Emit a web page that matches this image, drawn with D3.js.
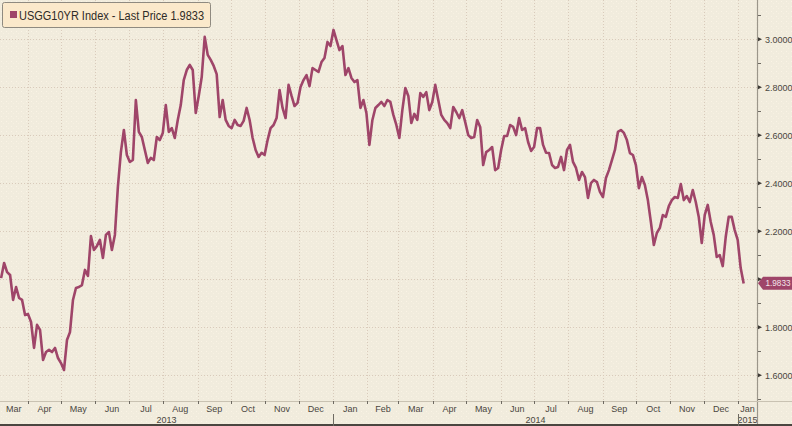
<!DOCTYPE html>
<html><head><meta charset="utf-8">
<script src="https://cdn.jsdelivr.net/npm/d3@7"></script>
<style>html,body{margin:0;padding:0;background:#f2eee0;} svg{display:block}</style>
</head><body><svg id="c" width="792" height="426"></svg>
<script>
// ---- data ----
const seriesName = "USGG10YR Index";
const legendLabel = "USGG10YR Index  - Last Price 1.9833";
const lastPrice = 1.9833;
const startDate = "2013-03-08";
const endDate = "2015-01-06";
const yields = [2.005,2.068,2.030,2.018,1.914,1.968,1.922,1.914,1.851,1.855,1.822,1.714,1.810,1.789,1.664,1.697,1.706,1.697,1.714,1.672,
1.651,1.622,1.747,1.780,1.914,1.964,1.968,1.976,2.039,2.014,2.180,2.122,2.139,2.164,2.089,2.185,2.197,2.122,2.185,2.385,
2.530,2.622,2.518,2.489,2.497,2.747,2.614,2.593,2.539,2.485,2.506,2.497,2.593,2.580,2.610,2.726,2.614,2.630,2.589,2.664,
2.726,2.830,2.872,2.893,2.872,2.693,2.764,2.843,3.010,2.935,2.914,2.889,2.855,2.676,2.747,2.664,2.639,2.630,2.664,2.643,
2.639,2.660,2.714,2.664,2.589,2.539,2.510,2.527,2.518,2.580,2.630,2.643,2.672,2.789,2.714,2.672,2.810,2.764,2.722,2.735,
2.801,2.830,2.851,2.805,2.880,2.872,2.864,2.905,2.922,2.989,2.972,3.039,2.997,2.955,2.972,2.851,2.880,2.839,2.822,2.830,
2.714,2.747,2.693,2.560,2.664,2.714,2.726,2.739,2.722,2.747,2.739,2.685,2.643,2.589,2.705,2.797,2.764,2.651,2.689,2.664,
2.776,2.760,2.780,2.705,2.739,2.810,2.747,2.685,2.664,2.651,2.630,2.718,2.697,2.672,2.705,2.655,2.601,2.589,2.593,2.664,
2.635,2.476,2.530,2.539,2.551,2.455,2.464,2.539,2.597,2.597,2.643,2.635,2.601,2.672,2.622,2.630,2.572,2.535,2.551,2.630,
2.630,2.560,2.527,2.526,2.476,2.464,2.468,2.510,2.455,2.539,2.560,2.489,2.464,2.414,2.447,2.426,2.339,2.401,2.414,2.405,
2.364,2.343,2.422,2.455,2.497,2.539,2.614,2.622,2.610,2.580,2.526,2.518,2.476,2.380,2.426,2.393,2.330,2.239,2.143,2.193,
2.214,2.268,2.260,2.305,2.330,2.343,2.339,2.397,2.330,2.347,2.322,2.372,2.322,2.260,2.151,2.268,2.310,2.239,2.185,2.093,
2.101,2.055,2.176,2.260,2.260,2.205,2.164,2.047,1.983];
const yTickValues = [1.6,1.8,2.0,2.2,2.4,2.6,2.8,3.0];
const yLabelValues = [1.6,1.8,2.2,2.4,2.6,2.8,3.0]; // 2.0000 sits under the last-price tag
const yMinorValues = [1.5,1.7,1.9,2.1,2.3,2.5,2.7,2.9,3.1];
const viewStart = "2013-03-07", viewEnd = "2015-01-18";

// ---- layout ----
const W = 792, H = 426;
const plotR = 757, plotB = 401;
const lineColor = "#9f4569";
const gridColor = "#d9cbbb";
const textColor = "#4a4640";
const font = "'Liberation Sans', Arial, sans-serif";

const parse = d3.utcParse("%Y-%m-%d");
const t0 = parse(startDate), t1 = parse(endDate);
const data = yields.map((v, i) => ({
  date: new Date(+t0 + (t1 - t0) * i / (yields.length - 1)), value: v }));

const x = d3.scaleUtc().domain([parse(viewStart), parse(viewEnd)]).range([0, plotR]);
const y = d3.scaleLinear().domain([3.0, 1.6]).range([39.3, 375.3]);

const svg = d3.select("#c");
const defs = svg.append("defs");
const pat = defs.append("pattern").attr("id","dots").attr("width",5).attr("height",5)
  .attr("patternUnits","userSpaceOnUse");
pat.append("rect").attr("width",5).attr("height",5).attr("fill","#f1ecdd");
pat.append("rect").attr("x",1).attr("y",1).attr("width",1).attr("height",1).attr("fill","#fbf4e6");
pat.append("rect").attr("x",3).attr("y",3).attr("width",1).attr("height",1).attr("fill","#f8f1e2");
defs.append("clipPath").attr("id","plotclip").append("rect")
  .attr("x",0).attr("y",0).attr("width",plotR).attr("height",plotB);
defs.append("clipPath").attr("id","axclip").append("rect")
  .attr("x",0).attr("y",plotB).attr("width",plotR).attr("height",H-plotB);

svg.append("rect").attr("width",W).attr("height",H).attr("fill","url(#dots)");

// grid
const months = d3.utcMonth.range(parse(viewStart), parse(viewEnd));
const gGrid = svg.append("g").attr("clip-path","url(#plotclip)");
gGrid.selectAll("line.v").data(months).join("line")
  .attr("x1", d => Math.round(x(d)) + 0.5).attr("x2", d => Math.round(x(d)) + 0.5)
  .attr("y1", 0).attr("y2", plotB)
  .attr("stroke", gridColor).attr("stroke-width",1).attr("stroke-dasharray","1,2");
gGrid.selectAll("line.h").data(yTickValues).join("line")
  .attr("x1", 0).attr("x2", plotR)
  .attr("y1", d => Math.round(y(d)) + 0.5).attr("y2", d => Math.round(y(d)) + 0.5)
  .attr("stroke", gridColor).attr("stroke-width",1).attr("stroke-dasharray","1,2");

// line
const line = d3.line().x(d => x(d.date)).y(d => y(d.value));
svg.append("path").datum(data).attr("clip-path","url(#plotclip)")
  .attr("d", line).attr("fill","none").attr("stroke", lineColor)
  .attr("stroke-width", 2.6).attr("stroke-linejoin","round");

// frame lines
svg.append("line").attr("x1",plotR+0.5).attr("x2",plotR+0.5).attr("y1",0).attr("y2",H)
  .attr("stroke","#9b968a").attr("stroke-width",1.2);
svg.append("line").attr("x1",0).attr("x2",W).attr("y1",plotB+0.5).attr("y2",plotB+0.5)
  .attr("stroke","#c9c2b2").attr("stroke-width",1);
svg.append("line").attr("x1",0).attr("x2",W).attr("y1",H-1).attr("y2",H-1)
  .attr("stroke","#4a4640").attr("stroke-width",2);

// right axis
const gy = svg.append("g").attr("transform",`translate(${plotR},0)`);
const yAxis = d3.axisRight(y).tickValues(yLabelValues).tickSize(0).tickPadding(8)
  .tickFormat(d3.format(".4f"));
gy.call(yAxis);
gy.select(".domain").remove();
gy.selectAll(".tick text").attr("font-family", font).attr("font-size", 9)
  .attr("fill", textColor).attr("dy","0.34em");
gy.selectAll("path.maj").data(yTickValues).join("path").attr("class","maj")
  .attr("transform", d => `translate(0,${y(d)})`)
  .attr("d","M1,-2L5,0L1,2Z").attr("fill","#3d3a35");
gy.selectAll("line.minor").data(yMinorValues).join("line")
  .attr("x1",1).attr("x2",4).attr("y1",d=>Math.round(y(d))+0.5).attr("y2",d=>Math.round(y(d))+0.5)
  .attr("stroke","#6e6a62").attr("stroke-width",1);

// last price tag
const ly = y(lastPrice);
const tag = svg.append("g").attr("transform",`translate(${plotR+1},${ly})`);
tag.append("path").attr("d","M0,0L5,-6.5L34,-6.5L34,6.5L5,6.5Z").attr("fill", lineColor);
tag.append("text").attr("x",7.5).attr("y",0).attr("dy","0.35em").text(d3.format(".4f")(lastPrice))
  .attr("font-family", font).attr("font-size",9).attr("fill","#f3e6ea")
  .attr("textLength",25).attr("lengthAdjust","spacingAndGlyphs");

// bottom axis: month ticks, month labels, year labels
const gx = svg.append("g").attr("clip-path","url(#axclip)");
gx.selectAll("line.mt").data(months).join("line")
  .attr("x1", d => Math.round(x(d)) + 0.5).attr("x2", d => Math.round(x(d)) + 0.5)
  .attr("y1", plotB).attr("y2", plotB + 3).attr("stroke","#6e6a62");
const monthSpans = d3.utcMonth.range(d3.utcMonth.floor(parse(viewStart)), parse(viewEnd)).map(m => {
  const a = Math.max(0, x(m)), b = Math.min(plotR, x(d3.utcMonth.offset(m,1)));
  return {m, c:(a+b)/2};
});
gx.selectAll("text.mo").data(monthSpans).join("text")
  .attr("x", d => d.c).attr("y", 412).attr("text-anchor","middle")
  .attr("font-family", font).attr("font-size", 9).attr("fill", textColor)
  .text(d => d3.utcFormat("%b")(d.m));
const years = d3.utcYear.range(d3.utcYear.floor(parse(viewStart)), parse(viewEnd)).map(yr => {
  const a = Math.max(0, x(yr)), b = Math.min(plotR, x(d3.utcYear.offset(yr,1)));
  return {yr, a, b, c:(a+b)/2};
});
gx.selectAll("text.yr").data(years).join("text")
  .attr("x", d => d.c).attr("y", 422.5).attr("text-anchor","middle")
  .attr("font-family", font).attr("font-size", 9).attr("fill", textColor)
  .text(d => d3.utcFormat("%Y")(d.yr));
gx.selectAll("line.ysep").data(years.filter(d => d.a > 0)).join("line")
  .attr("x1", d => Math.round(d.a) + 0.5).attr("x2", d => Math.round(d.a) + 0.5)
  .attr("y1", 414).attr("y2", H).attr("stroke","#6e6a62");

// legend
const lg = svg.append("g");
lg.append("rect").attr("x",2.5).attr("y",2.5).attr("width",208).attr("height",25).attr("rx",2)
  .attr("fill","#fbe9cb").attr("stroke","#8f8a80").attr("stroke-width",1);
lg.append("rect").attr("x",10).attr("y",11).attr("width",7).attr("height",7).attr("fill", lineColor);
lg.append("text").attr("x",19).attr("y",19.5).text(legendLabel)
  .attr("font-family", font).attr("font-size", 12).attr("fill","#2e2b27")
  .attr("textLength",185).attr("lengthAdjust","spacingAndGlyphs");
</script></body></html>
